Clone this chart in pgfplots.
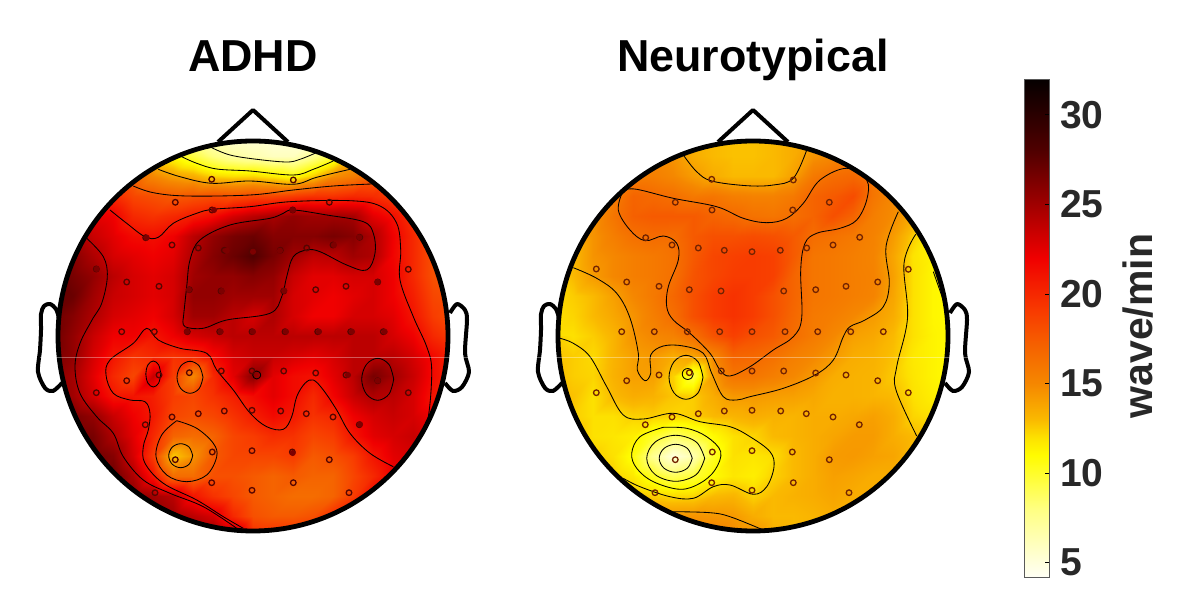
\documentclass[border=0pt]{standalone}
\usepackage{fontspec}
\setmainfont{Liberation Sans}
\usepackage{pgfplots}
\usepackage{pgfplotstable}
\pgfplotsset{compat=1.18}
\definecolor{lab}{RGB}{40,40,40}
\pgfplotstableread{
x y
711.7 179.3
675.3 202.3
712 210
645.7 237.7
672 245
698.3 248
724.3 250.3
752 251.7
596.3 269
626.7 282
659 286.3
689.3 289.7
721 291
793.3 180
792.7 210
829.3 202.3
780.3 250.3
806.7 248
833 245
859.7 237.3
908.3 269.3
877.7 282
846 286.3
815.7 289.7
783.7 291
621.7 331.7
654.3 331.7
687.3 331.7
719.7 331.7
752 331.7
689.3 372.7
659 375
626.7 380.7
596.3 392.7
721.3 371
752 371
645.3 424.7
672 417
698.3 413.7
724.3 411
752 410.3
712.3 452
752 450.7
675.3 459.7
711.7 482.7
752 490.3
655 492.7
785 331.7
817.7 331.7
850.7 331.7
883.3 331.7
783.7 371
815.7 373
846 375
877.7 380.7
908.3 392.7
780.7 411
806.3 413.7
833 417
859.3 424.7
792.3 452
829.3 459.7
793.3 482.7
849 492.7
}\electrodes
\pgfplotstableread{
x y
146.7 237.7
226.7 250.7
253 251.7
96.7 269
189 289.7
221.7 291
214 210
280 250.7
292.7 210
334 245
359.3 237.3
377.7 282
284.3 290.7
220.7 331.7
253 331.7
187 331.7
286 331.7
319 331.7
352 331.7
384.7 331.7
377.7 380.7
360 424.3
292.7 453
348 375
}\darkelectrodes
\pgfplotstableread[row sep=\\]{
v\\
12\\12\\12\\12\\12\\12\\10\\7\\5.5\\5\\5\\5\\5\\5\\8\\13\\15\\15\\15\\15\\15\\
12\\12\\12\\13\\14\\13\\11\\9.5\\8\\7\\6.5\\6\\6\\7.5\\9.5\\13\\15\\15\\15\\15\\15\\
18\\18\\18\\18\\17\\15\\14\\13.5\\12.3\\12\\12.2\\11.6\\10.8\\12.5\\14.7\\15.5\\17\\18\\18\\18\\18\\
20\\20\\20\\20\\18.5\\18\\17.5\\17.8\\18.2\\18\\18.5\\18.5\\19\\19.5\\19.5\\20\\19.8\\19\\18\\18\\18\\
23\\23\\22.5\\22\\20\\19.5\\20\\20.7\\21.5\\23\\24\\24.7\\25.5\\25\\25\\24.8\\22.5\\21.3\\19.5\\18\\18\\
25\\25\\23.5\\22.5\\21.5\\21.3\\22\\24\\25.5\\26.5\\27\\26\\26\\26\\26.5\\26\\24.5\\22\\20\\18\\18\\
27\\26\\24.5\\23\\22.5\\22\\22.5\\24.5\\26\\27\\28\\26.5\\25\\23.8\\24\\25\\24.5\\21.8\\20\\18\\18\\
27\\26.5\\25.5\\24\\23\\22.5\\23\\25\\25.5\\25.5\\26\\25.5\\23.5\\22.5\\22.5\\23\\23\\22\\20\\18\\17.5\\
27.5\\27\\25\\23.5\\23\\22.5\\23\\25.5\\25.5\\25\\25\\25\\23\\22.5\\22\\22.5\\23\\22\\20.5\\18.5\\18\\
27\\26\\24.5\\23\\22.5\\22\\23\\25\\25\\24\\23\\24.5\\23\\22\\22\\23\\23\\22.5\\21\\19\\18\\
27\\25.5\\23.5\\22\\22\\21\\22\\23\\23.5\\24\\24\\24\\24\\24\\24\\24\\24\\23\\22\\20\\19\\
27\\25.5\\23\\21\\19.5\\20\\19.5\\20\\21.5\\23\\23.5\\23.5\\23\\22.5\\23\\24\\24\\24\\23\\21.5\\20\\
26\\24.8\\22.5\\20\\18.5\\23.5\\19\\15\\20\\22.5\\26\\22.5\\21.5\\21.2\\22.5\\24\\26.5\\25\\23.5\\21.5\\20\\
26\\25\\23\\21\\21\\20.5\\19\\18.5\\19.5\\20.5\\21.5\\22.5\\21.5\\20\\21.8\\23.5\\24.5\\24\\23\\21\\20\\
27\\26.5\\25.5\\23.5\\22\\20.8\\18.5\\18\\18.5\\19.5\\20.5\\21.5\\20.8\\19.5\\20\\22\\23\\23.5\\23\\22\\21\\
28\\27\\26.5\\24.5\\22.5\\20\\17\\16.5\\17\\18.5\\19\\19.8\\19.5\\18.5\\19\\21\\22.5\\23\\23.5\\23\\23\\
28\\28\\27\\26\\23\\19\\12.5\\14.5\\17.5\\18.5\\18.5\\18.5\\19\\17.5\\18\\19\\21\\22.5\\23\\24\\24\\
28\\28\\27\\27\\24.5\\21\\16.5\\16.5\\18\\18\\17.5\\17\\17.5\\17\\17\\18.5\\20\\22\\23\\24\\24\\
28\\28\\28\\27\\26\\25\\24\\21\\19.5\\18.5\\17.5\\17\\16.5\\16.5\\17\\19\\22\\23\\24\\24\\24\\
28\\28\\28\\28\\27\\26\\25\\24\\23\\20\\18\\17.5\\17.5\\18\\20\\22\\24\\24\\24\\24\\24\\
28\\28\\28\\28\\28\\27\\26\\26\\26\\25\\20\\20\\20\\20\\22\\24\\24\\24\\24\\24\\24\\
}\adhdgrid
\pgfplotstableread[row sep=\\]{
v\\
14.5\\14.5\\14.5\\14.5\\14.5\\14.5\\14.5\\14\\13\\12.8\\12.8\\13\\13.5\\14\\14.5\\15\\15\\15\\15\\15\\15\\
15\\15\\15\\15\\15\\15\\14.5\\13.5\\13\\12.8\\12.8\\13\\13.5\\14.5\\15\\15.5\\15.5\\15\\15\\15\\15\\
15\\15\\15\\15\\15.5\\15.5\\15\\14.2\\13.5\\13\\13\\13\\14\\15.8\\16.5\\16.8\\16\\15\\15\\14\\14\\
15\\15\\15\\15.5\\17\\16.7\\16.4\\15.8\\16\\15.5\\15.3\\15.3\\15.8\\17\\17.5\\18.2\\16\\15\\14\\13\\13\\
14\\14\\14.5\\16\\17.2\\17.5\\17.5\\17.5\\17\\16.7\\16.2\\16\\16.4\\17\\18\\17\\15.5\\14.8\\13.5\\12\\12\\
14\\14\\14.5\\15.5\\16.3\\16.6\\16.5\\17.5\\18\\18\\18.2\\18\\17.5\\16.5\\16.2\\15.8\\15.3\\14.2\\12.5\\11.3\\11.3\\
13\\13\\14.5\\15\\15.5\\15.8\\16.2\\17.5\\18.5\\18.8\\19\\18.8\\17.5\\16\\15.8\\15.5\\15.2\\13.8\\11.9\\11.3\\11\\
12.8\\13\\14.2\\15\\15.5\\15.8\\16.3\\17.8\\18.5\\19\\19\\18.8\\17\\16\\15.8\\15.5\\15.3\\14\\12\\11.2\\11\\
12.3\\12.5\\13\\14\\15\\15.8\\16.8\\18\\19\\19.5\\19\\18\\17\\16\\15.8\\15.5\\15.2\\13.8\\12\\11.2\\11\\
12\\12.3\\13\\13.7\\14.5\\15.5\\16.4\\18\\19\\19.5\\19\\18\\16.8\\15.8\\15.5\\15\\14.2\\13.5\\12\\11.2\\11\\
12\\12\\12.5\\13.2\\14.5\\15\\15.3\\16.3\\17.8\\18.8\\18\\17.5\\16.5\\15.7\\15\\14\\13.7\\13\\12\\11.3\\11\\
12.5\\12.5\\12.2\\13.2\\14\\14.3\\13.5\\13.8\\15\\17\\16.8\\16.3\\15.5\\15\\14.3\\13.5\\13.3\\12.8\\11.7\\11.3\\11\\
13\\12.5\\12.3\\13.3\\14\\14\\12.4\\9.5\\14.2\\16\\16\\15.5\\15\\14.3\\13.5\\13.3\\13.2\\12.6\\11.8\\11.3\\11\\
13\\12.8\\12\\13\\13.5\\13.3\\12.7\\12.5\\13.5\\14.3\\14.3\\14.1\\14\\13.7\\13.3\\13.3\\13.2\\13\\12\\11.5\\11\\
13\\12.5\\12\\12\\12.4\\12.5\\12.3\\12.5\\13\\13.2\\13.5\\13.3\\13.2\\13.5\\13.5\\13.7\\14\\13.5\\12.3\\12\\12\\
13\\13\\12\\11.8\\11.5\\10\\8.7\\9.5\\11\\12\\12.3\\13\\13.2\\13.5\\13.8\\14.2\\14.2\\13.5\\13\\13\\13\\
13\\13\\12.5\\12\\10.7\\7.5\\5\\6.5\\10.2\\12\\11.8\\12.1\\13\\13.5\\14.2\\14.3\\14\\13.8\\13\\13\\13\\
13\\13\\13\\12.5\\11.7\\10.3\\9\\9.7\\11\\11.8\\11.5\\12.4\\13\\13.5\\14\\13.8\\13.5\\13.5\\13\\13\\13\\
14\\14\\14\\13.5\\13\\12.5\\12.2\\12.3\\13\\13.2\\12.4\\13\\13.3\\13.5\\13.8\\13.5\\13.5\\13.5\\13\\13\\13\\
15\\15\\15\\15\\14.8\\14.6\\14.5\\14.5\\14.4\\14.3\\13.5\\13\\13\\13.2\\13.5\\13.5\\13.5\\13.5\\13\\13\\13\\
15\\15\\15\\15\\15\\15.5\\15.5\\15.5\\15.5\\15\\14.8\\13.5\\13\\13\\13.5\\13.5\\13.5\\13.5\\13\\13\\13\\
}\ntgrid
\pgfplotsset{
  ctr/.style={draw=black,mark=none,line width=0.42pt,smooth,tension=0.6},
  hd/.style={draw=black,mark=none,line width=2pt,line join=round},
}
\begin{document}
\begin{tikzpicture}
\begin{axis}[
  scale only axis,width=593.5pt,height=306.5pt,
  xmin=0,xmax=1187,ymin=0,ymax=613,y dir=reverse,hide axis,clip=false,
  colormap={fire}{
    rgb255(42mm)=(255,255,245);
    rgb255(80mm)=(255,255,130);
    rgb255(110mm)=(255,252,0);
    rgb255(120mm)=(253,225,0);
    rgb255(130mm)=(250,185,0);
    rgb255(150mm)=(245,135,0);
    rgb255(170mm)=(245,100,0);
    rgb255(190mm)=(248,60,0);
    rgb255(220mm)=(240,0,0);
    rgb255(250mm)=(160,0,0);
    rgb255(280mm)=(80,0,0);
    rgb255(320mm)=(5,0,0);
  },
  point meta min=4.2,point meta max=32,
  colorbar,
  colorbar style={
    at={(parent axis.north west)},anchor=north west,xshift=503.5pt,yshift=-39.5pt,
    width=12.5pt,height=249pt,
    ytick={5,10,15,20,25,30},
    yticklabel pos=right,ytick pos=right,tick align=inside,
    major tick length=2pt,
    tick style={draw=black,line width=0.4pt},
    axis line style={draw=black!65,line width=0.4pt},
    /pgf/number format/assume math mode=true,
    yticklabel style={font=\fontsize{19.5}{21}\selectfont\bfseries,text=lab,xshift=2pt},
  },
]
\path (axis cs:0,0) rectangle (axis cs:1187,613);
% ---- ADHD field
\addplot[surf,shader=interp,mesh/cols=21,point meta=\thisrow{v}]
  table[x index=0,y index=0,x expr={53+20*mod(\coordindex,21)},y expr={136+20*floor(\coordindex/21)}]{\adhdgrid};
\addplot[surf,shader=interp,mesh/cols=21,point meta=\thisrow{v}]
  table[x index=0,y index=0,x expr={553+20*mod(\coordindex,21)},y expr={136+20*floor(\coordindex/21)}]{\ntgrid};
\fill[white,even odd rule] (axis cs:48,130) rectangle (axis cs:458,542) (axis cs:253,336) circle[radius=195];
\fill[white,even odd rule] (axis cs:548,130) rectangle (axis cs:958,542) (axis cs:753,336) circle[radius=195];
% ---- ADHD contours
\addplot[ctr] coordinates {(211.7,147.7)(230,155)(256.7,159.3)(286.7,162)(300,159.3)(315,153.3)};
\addplot[ctr] coordinates {(181.7,156.7)(196.7,163.3)(216.7,169)(250,171)(293.3,175)(313.3,169.3)(333.3,161)};
\addplot[ctr] coordinates {(158.3,169.3)(180,176.7)(211.7,183.3)(250,181)(293.3,184.3)(316.7,177.3)(350,169.3)};
\addplot[ctr] coordinates {(133.3,186)(153.3,192.7)(186.7,196)(250,195)(293.3,190)(333.3,186)(371.7,184)};
\addplot[ctr] coordinates {(110,210)(126.7,223.3)(145,236.7)(158.3,237.3)(173.3,223.3)(196.7,213.3)(213.3,209.3)(250,206.7)(290,201.7)(350,200.7)(380,206)(396.7,223.3)(400.7,250)(400,280)(413.3,316.7)(426.7,346.7)(431.7,370)(428.3,416.7)(420,436)};
\addplot[ctr] coordinates {(183.3,318.3)(186.7,286.7)(190,260)(200,240)(230,225)(270,218.3)(283.3,213.3)(293.3,210)(326.7,215)(363.3,221.7)(373.3,233.3)(375,253.3)(366.7,270)(346.7,265)(320,251.7)(306.7,250)(293.3,256.7)(286.7,276.7)(281.7,296.7)(270,313.3)(226.7,320)(203.3,328.3)(185,326.7)(183.3,318.3)};
\addplot[ctr] coordinates {(86.7,238.3)(103.3,256.7)(107.3,276.7)(101.7,303.3)(92,320)(80,343.3)(75,366.7)(80,393.3)(96.7,416.7)(113.3,433.3)(123.3,456.7)(143.3,480)(170,493.3)(203.3,506.7)(236.7,528.3)};
\addplot[ctr] coordinates {(243.3,528.3)(223.3,516.7)(196.7,500)(163.3,483.3)(145,463.3)(143.3,446.7)(148.3,430)(150,413.3)(145,401.7)(130,400)(113.3,393.3)(106,375)(110,360)(133.3,343.3)(146.7,328.3)(158.3,340)(180,348.3)(206.7,353.3)(216.7,370)(233.3,390)(250,413)(266.7,426.7)(283.3,429.3)(291.7,416.7)(296.7,396.7)(305,383.3)(313.3,380)(323.3,390)(336.7,410)(350,433.3)(370,453.3)(393.3,466.7)};
\addplot[ctr] coordinates {(176.7,420.7)(196.7,428.3)(213.3,443.3)(216.7,456.7)(206.7,475)(186.7,481.7)(166.7,475)(156,456.7)(161.7,435)(176.7,420.7)};
\addplot[ctr] coordinates {(160.8,374)(158.6,383.2)(153.3,387)(148,383.2)(145.8,374)(148,364.8)(153.3,361)(158.6,364.8)(160.8,374)};
\addplot[ctr] coordinates {(203,377.3)(199.2,388.6)(190,393.3)(180.8,388.6)(177,377.3)(180.8,366)(190,361.3)(199.2,366)(203,377.3)};
\addplot[ctr] coordinates {(192.7,455.7)(189.2,464.2)(180.7,467.7)(172.2,464.2)(168.7,455.7)(172.2,447.2)(180.7,443.7)(189.2,447.2)(192.7,455.7)};
\addplot[ctr] coordinates {(393.7,379.3)(389,394.1)(377.7,400.3)(366.4,394.1)(361.7,379.3)(366.4,364.5)(377.7,358.3)(389,364.5)(393.7,379.3)};
\addplot[ctr] coordinates {(260.7,375)(259.5,377.8)(256.7,379)(253.9,377.8)(252.7,375)(253.9,372.2)(256.7,371)(259.5,372.2)(260.7,375)};
% ---- Neurotypical contours
\addplot[ctr] coordinates {(684,156)(696.7,171.7)(711.7,181)(746.7,185.7)(773.3,185)(793.3,178.3)(806.7,150)};
\addplot[ctr] coordinates {(623.3,190)(636.7,189.3)(673.3,198.3)(716.7,206.7)(743.3,218.3)(766.7,222.7)(786.7,218.3)(803.3,203.3)(820,180)(846.7,168.3)(866.7,180)(866.7,200)(856.7,220)(840,228.3)(816.7,233.3)(805,243.3)(800.7,270)(801.7,318)(793.3,336.7)(773.3,350)(750,366.7)(730,376)(720,370)(710,353.3)(690,333.3)(673.3,320)(666.7,306.7)(668.3,286.7)(678.3,260)(676.7,243.3)(663.3,236)(645,240.7)(630,230)(618.3,210)(623.3,190)};
\addplot[ctr] coordinates {(573.3,267.7)(596.7,278.3)(616.7,293.3)(630,318)(638.3,353.3)(637.3,370)(645,380.7)(650.7,373.3)(650.7,355)(663.3,346)(683.3,346)(703.3,353.3)(711.7,373.3)(723.3,396.7)(736.7,400)(750,396.7)(783.3,388.3)(815,375)(833.3,360)(843.3,336.7)(850,326.7)(865,320)(883.3,306.7)(889.3,283.3)(886,246.7)(898.3,211.7)};
\addplot[ctr] coordinates {(915.7,234.3)(904,263.3)(907.5,318)(896.7,366.7)(896,390)(916.7,436)};
\addplot[ctr] coordinates {(933.3,271.7)(946.7,310)};
\addplot[ctr] coordinates {(560,338.3)(573.3,343.3)(590,356.7)(606.7,386.7)(623.3,415)(643.3,419)(673.3,413.3)(700,421.7)(730,426.7)(750,436.7)(770,451.7)(774,466.7)(766.7,486.7)(753.3,494.3)(730,485)(713.3,486.7)(693.3,498.3)(670,496.7)(640,486.7)(623.3,478.3)};
\addplot[ctr] coordinates {(673.3,511.7)(710,512.7)(730,516.7)(763.3,530)};
\addplot[ctr] coordinates {(663.3,427.3)(686.7,428.3)(706.7,436.7)(720.7,451.7)(715,470)(700,483.3)(680,489.3)(653.3,481.7)(636.7,468.3)(631.7,453.3)(640,436.7)(663.3,427.3)};
\addplot[ctr] coordinates {(704.7,458.3)(696.2,474.6)(675.7,481.3)(655.2,474.6)(646.7,458.3)(655.2,442)(675.7,435.3)(696.2,442)(704.7,458.3)};
\addplot[ctr] coordinates {(692.2,458.3)(687.4,468.2)(675.7,472.3)(664,468.2)(659.2,458.3)(664,448.4)(675.7,444.3)(687.4,448.4)(692.2,458.3)};
\addplot[ctr] coordinates {(703,377.3)(698,392.9)(686,399.3)(674,392.9)(669,377.3)(674,361.7)(686,355.3)(698,361.7)(703,377.3)};
\addplot[ctr] coordinates {(693.2,374)(691.6,377.9)(687.7,379.5)(683.8,377.9)(682.2,374)(683.8,370.1)(687.7,368.5)(691.6,370.1)(693.2,374)};
% ---- electrodes
\addplot[only marks,mark=o,mark size=1.4pt,mark options={draw={rgb,255:red,85;green,5;blue,0},line width=0.65pt}]
  table[x expr={\thisrow{x}-500},y=y]{\electrodes};
\addplot[only marks,mark=*,mark size=1.3pt,mark options={draw={rgb,255:red,125;green,0;blue,0},fill={rgb,255:red,125;green,0;blue,0}}]
  table[x=x,y=y]{\darkelectrodes};
\addplot[only marks,mark=o,mark size=1.4pt,mark options={draw={rgb,255:red,115;green,35;blue,0},line width=0.65pt}]
  table[x=x,y=y]{\electrodes};
% ---- heads
\draw[black,line width=2.4pt] (axis cs:253,336) circle[radius=195];
\draw[black,line width=2.4pt] (axis cs:753,336) circle[radius=195];
\addplot[hd] coordinates {(218,142)(253,110)(288,142)};
\addplot[hd] coordinates {(718,142)(753,110)(788,142)};
\addplot[hd,smooth,tension=0.5] coordinates {(59,318)(56,309)(50,304)(44,306)(41,314)(41,330)(40,350)(38,372)(45,388)(53,391)(62,383)};
\addplot[hd,smooth,tension=0.5] coordinates {(450,313)(457,304)(465,310)(467,320)(465,353)(469,372)(462,387)(453,391)(445,383)};
\addplot[hd,smooth,tension=0.5] coordinates {(559,318)(556,309)(550,304)(544,306)(541,314)(541,330)(540,350)(538,372)(545,388)(553,391)(562,383)};
\addplot[hd,smooth,tension=0.5] coordinates {(950,313)(957,304)(965,310)(967,320)(965,353)(969,372)(962,387)(953,391)(945,383)};
\draw[white,opacity=0.35,line width=0.4pt] (axis cs:40,357) -- (axis cs:970,357);
% ---- text
\node[font=\fontsize{22.4}{26}\selectfont\bfseries,text=black,anchor=base] at (axis cs:253,72) {ADHD};
\node[font=\fontsize{22.4}{26}\selectfont\bfseries,text=black,anchor=base] at (axis cs:753,72) {Neurotypical};
\node[font=\fontsize{20.5}{24}\selectfont\bfseries,text=lab,rotate=90] at (axis cs:1138,326) {wave/min};
\end{axis}
\end{tikzpicture}
\end{document}
